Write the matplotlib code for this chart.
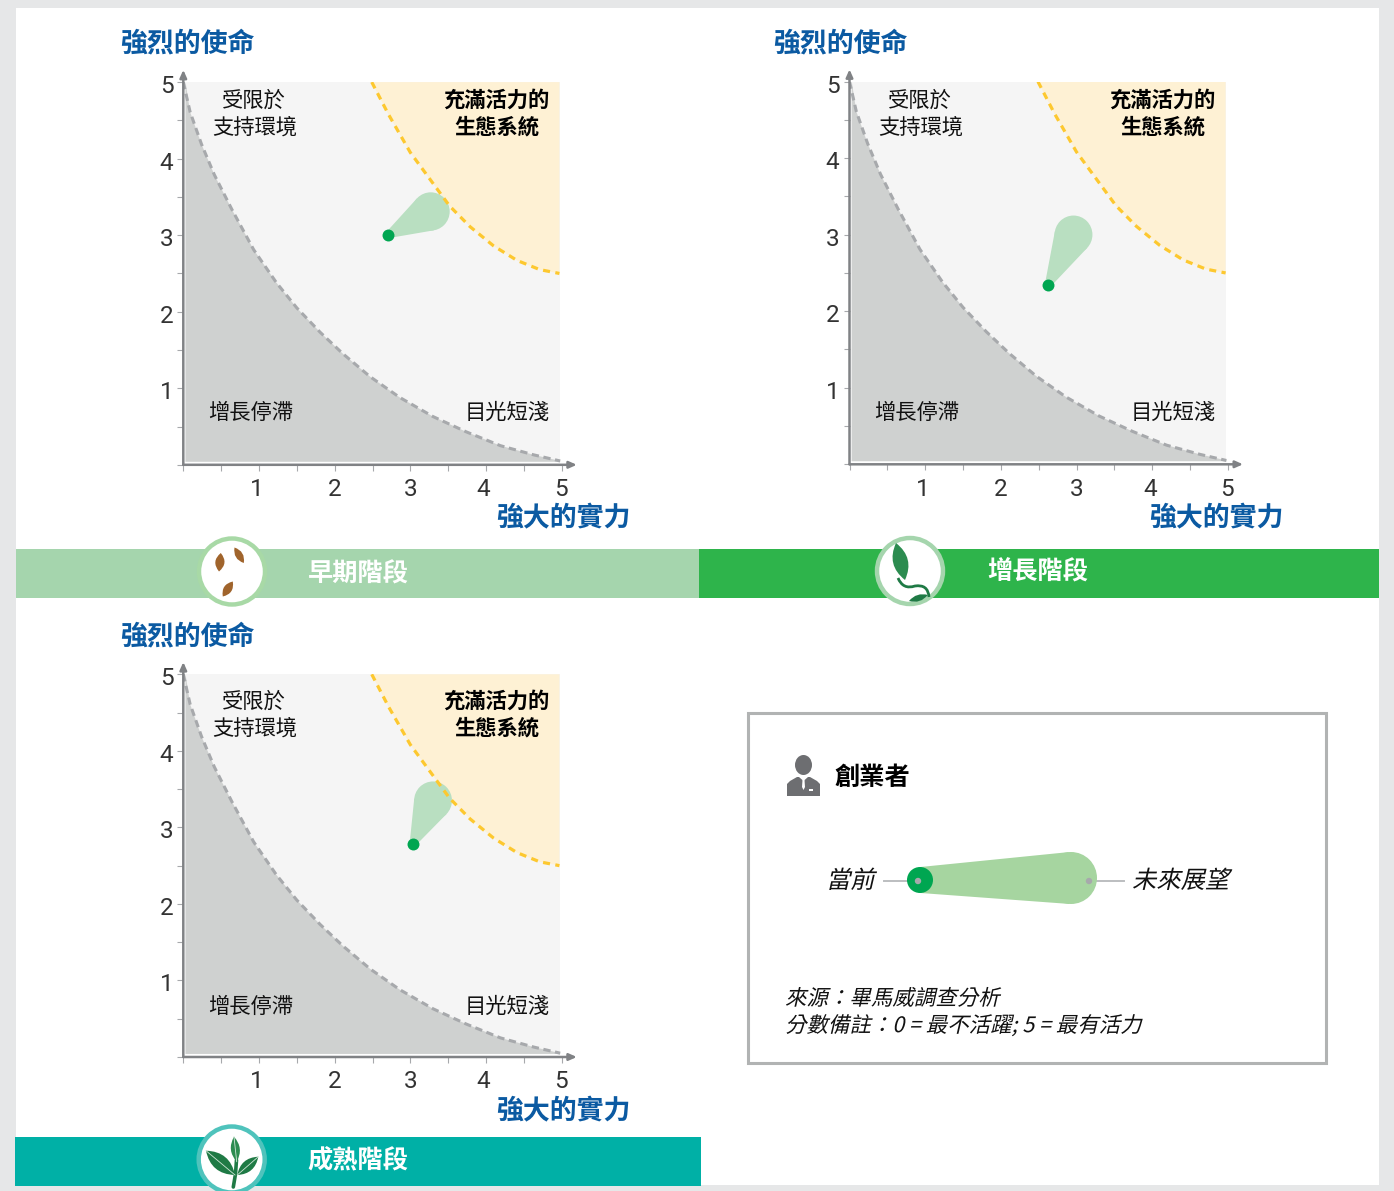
import numpy as np
import matplotlib
matplotlib.use("Agg")
import matplotlib.pyplot as plt
from matplotlib.patches import Rectangle, Circle, Ellipse, Polygon, PathPatch
from matplotlib.path import Path
from matplotlib.patheffects import AbstractPathEffect
from matplotlib.transforms import Affine2D, ScaledTranslation

plt.rcParams['font.family'] = ['Noto Sans CJK TC', 'DejaVu Sans']

W, H = 1394, 1191

# ---- data ----
low_x = [0, .09, .24, .41, .64, .93, 1.23, 1.50, 1.81, 2.11, 2.47, 2.86, 3.30, 3.74, 4.19, 4.63, 4.98]
low_y = [5.0, 4.61, 4.19, 3.79, 3.34, 2.81, 2.38, 2.05, 1.73, 1.45, 1.15, .88, .63, .43, .25, .13, .05]
high_x = [2.49, 2.71, 3.0, 3.26, 3.52, 3.79, 4.10, 4.41, 4.71, 4.97]
high_y = [5.0, 4.58, 4.08, 3.73, 3.38, 3.11, 2.86, 2.67, 2.55, 2.5]
now_x = [2.70, 2.62, 3.03]
now_y = [3.00, 2.34, 2.78]
future_x = [3.27, 2.96, 3.30]
future_y = [3.31, 3.00, 3.35]
tick_values = [1, 2, 3, 4, 5]
minor_values = [0, .5, 1.5, 2.5, 3.5, 4.5]
stages = ['早期階段', '增長階段', '成熟階段']
mission = '強烈的使命'
ability = '強大的實力'
zone_low = '增長停滯'
zone_mission = ['受限於', '支持環境']
zone_ability = '目光短淺'
zone_high = ['充滿活力的', '生態系統']

BLUE = '#0b5aa2'
AX_GRAY = '#808285'


class Skew(AbstractPathEffect):
    def draw_path(self, renderer, gc, tpath, affine, rgbFace=None):
        renderer.draw_path(gc, tpath, Affine2D().skew_deg(13, 0) + affine, rgbFace)


fig = plt.figure(figsize=(W / 100, H / 100), dpi=100, facecolor='#e6e7e8')

# pixel-space layer for page furniture, labels and icons
pg = fig.add_axes([0, 0, 1, 1], zorder=5, facecolor='none')
pg.set_xlim(0, W)
pg.set_ylim(H, 0)
pg.axis('off')
bg = fig.add_axes([0, 0, 1, 1], zorder=0)
bg.set_xlim(0, W)
bg.set_ylim(H, 0)
bg.axis('off')
bg.add_patch(Rectangle((16, 8), 1363, 1177, fc='white', ec='none'))


def T(x, y, s, size, color='#111111', weight='normal', ha='center', italic=False):
    t = pg.text(x, y + 2.5, s, fontsize=size * 1.01, color=color, fontweight=weight, ha=ha, va='center')
    if italic:
        t.set_path_effects([Skew()])
    return t


def teardrop(ax, x0, y0, x1, y1, r0, r1, color, z=3):
    c0, c1 = np.array([x0, y0]), np.array([x1, y1])
    d = c1 - c0
    L = np.hypot(*d)
    a = np.arctan2(d[1], d[0])
    b = np.arccos((r0 - r1) / L)
    n1 = np.array([np.cos(a + b), np.sin(a + b)])
    n2 = np.array([np.cos(a - b), np.sin(a - b)])
    ax.add_patch(Polygon([c0 + r0 * n1, c1 + r1 * n1, c1 + r1 * n2, c0 + r0 * n2],
                         fc=color, ec='none', zorder=z))
    ax.add_patch(Ellipse(c1, 2 * r1, 2 * r1, fc=color, ec='none', zorder=z))


def panel(x0, y0, dx, idx, ty):
    ax = fig.add_axes([x0 / W, 1 - y0 / H, 378.4 / W, 382.7 / H], zorder=2, facecolor='none')
    ax.set_xlim(0, 5)
    ax.set_ylim(0, 5)
    for s in ax.spines.values():
        s.set_visible(False)
    ax.add_patch(Rectangle((.02, .04), 4.96, 4.96, fc='#f5f5f5', ec='none', zorder=1))
    ax.fill_between(high_x + [4.97], high_y + [5], 5, fc='#fef1d4', ec='none', zorder=1.2)
    ax.fill_between([.03] + low_x[1:], [5] + low_y[1:], .04, fc='#cfd1d0', ec='none', zorder=1.4)
    ax.plot(low_x, low_y, color='#a7a9ac', lw=2.2, ls=(0, (2.4, 1.5)), zorder=2)
    teardrop(ax, now_x[idx], now_y[idx], future_x[idx], future_y[idx], .04, .25, '#b9dfc1')
    ax.plot(high_x, high_y, color='#fdc82f', lw=2.3, ls=(0, (2.2, 1.7)), zorder=4)
    ax.scatter(now_x[idx], now_y[idx], s=74, color='#00a651', zorder=5, linewidths=0)
    ax.set_xticks(tick_values)
    ax.set_yticks(tick_values)
    ax.set_xticks(minor_values, minor=True)
    ax.set_yticks(minor_values, minor=True)
    ax.tick_params(which='both', length=4.2, width=.8, color='#a7a9ac', labelcolor='#333333')
    ax.tick_params(axis='x', which='major', pad=5.5, labelsize=17.5, labelfontfamily='Roboto')
    ax.tick_params(axis='y', which='major', pad=3, labelsize=17.5, labelfontfamily='Roboto')
    shift_y = ScaledTranslation(0, -2 / 100, fig.dpi_scale_trans)
    for lab in ax.get_yticklabels():
        lab.set_transform(lab.get_transform() + shift_y)
    for lab, sx in zip(ax.get_xticklabels(), [-2.5, 0, 0, -2.5, -1]):
        lab.set_transform(lab.get_transform() + ScaledTranslation(sx / 100, 0, fig.dpi_scale_trans))
    for p in [(5.2, 0), (0, 5.16)]:
        ax.annotate('', xy=p, xytext=(0, 0), annotation_clip=False,
                    arrowprops=dict(arrowstyle='-|>,head_length=.45,head_width=.2', color=AX_GRAY,
                                    lw=1.8, shrinkA=0, shrinkB=0), zorder=6)
    # page labels
    T(120 + dx, ty, mission, 19.2, BLUE, 'bold', ha='left')
    T(496.5 + dx, ty + 475, ability, 19.2, BLUE, 'bold', ha='left')
    return ax


panel(183.3, 464.8, 0, 0, 41)
panel(849.5, 464.3, 653, 1, 41)
panel(183.3, 1057, 0, 2, 634)

# zone labels
for dx, dy_top, dy_bot in [(0, 0, 0), (666, 0, 0), (0, 601, 594)]:
    T(254 + dx, 98 + dy_top, zone_mission[0], 15.2)
    T(255 + dx, 125 + dy_top, zone_mission[1], 15.2)
    T(496.5 + dx, 98 + dy_top, zone_high[0], 15.2, '#000000', 'bold')
    T(496.5 + dx, 125 + dy_top, zone_high[1], 15.2, '#000000', 'bold')
    T(251 + dx, 410 + dy_bot, zone_low, 15.2)
    T(507 + dx, 410 + dy_bot, zone_ability, 15.2)

# stage bands
bg.add_patch(Rectangle((16, 549), 683, 49, fc='#a5d5ad', ec='none'))
bg.add_patch(Rectangle((699, 549), 680, 49, fc='#2eb44b', ec='none'))
bg.add_patch(Rectangle((15, 1137), 686, 49, fc='#00b0a6', ec='none'))
T(358, 572, stages[0], 18, 'white', 'bold')
T(1038, 569.5, stages[1], 18, 'white', 'bold')
T(358, 1158, stages[2], 18, 'white', 'bold')


def lens(p0, p1, w, color, z=7, vein=None):
    p0, p1 = np.array(p0, float), np.array(p1, float)
    d = p1 - p0
    n = np.array([-d[1], d[0]]) / np.hypot(*d)
    m = (p0 + p1) / 2
    verts = [p0, m + n * w * 2, p1, m - n * w * 2, p0]
    codes = [Path.MOVETO, Path.CURVE3, Path.CURVE3, Path.CURVE3, Path.CURVE3]
    pg.add_patch(PathPatch(Path(verts, codes), fc=color, ec='none', zorder=z))
    if vein:
        pg.plot([p0[0], p1[0]], [p0[1], p1[1]], color=vein, lw=.6, zorder=z + .1)


for c, ring in [((232, 571.5), '#a8d9a6'), ((910, 571), '#a5d5ad'), ((231.7, 1159.5), '#4fc3bc')]:
    pg.add_patch(Circle(c, 33, fc='white', ec=ring, lw=3.2, zorder=6))

BROWN = '#a0642c'
lens((220.8, 553), (219, 571.5), 4.6, BROWN)
lens((234.5, 547.5), (243.8, 563), 3.8, BROWN)
lens((232.8, 581.5), (222.8, 596.5), 4.2, BROWN)

lens((896, 543), (905, 580), 7.5, '#2c8c50')
pg.add_patch(PathPatch(Path([(898, 578), (903, 590), (915, 586), (928, 584), (929, 597)],
                            [Path.MOVETO, Path.CURVE3, Path.CURVE3, Path.CURVE3, Path.CURVE3]),
                       fc='none', ec='#1f7a45', lw=2, zorder=7))
lens((909, 601), (928, 595), 3.2, '#1f7a45')

DG = '#1f7a45'
pg.plot([236.5, 235.5, 233.3], [1160, 1174, 1187], color=DG, lw=2.6, zorder=7, solid_capstyle='round')
lens((234, 1136.7), (236.7, 1161.7), 4.5, '#2c8c50', vein='#cfe6d6')
lens((206, 1150.7), (235, 1175), 7.5, DG, vein='#cfe6d6')
lens((258.3, 1156.7), (237.3, 1175), 5.5, DG, vein='#cfe6d6')

# legend box
bg.add_patch(Rectangle((748, 713), 578.3, 349.5, fc='white', ec='#b1b3b3', lw=2.2))
# person icon
ICON = '#6d6e71'
pg.add_patch(Ellipse((803.5, 765), 17, 20, fc=ICON, ec='none', zorder=6))
pg.add_patch(Polygon([(787, 796), (787, 784), (790, 781), (797, 777), (810, 777), (817, 781), (820, 784), (820, 796)],
                     fc=ICON, ec='none', zorder=6))
pg.add_patch(Polygon([(799, 777), (803.5, 781), (808, 777)], fc='white', ec='none', zorder=6.1))
pg.add_patch(Polygon([(802.5, 780), (804.5, 780), (805, 787), (803.5, 790), (802, 787)], fc='white', ec='none', zorder=6.1))
pg.add_patch(Rectangle((809, 789), 4, 1.5, fc='white', ec='none', zorder=6.1))
T(834, 775, '創業者', 18, '#000000', 'bold', ha='left')

pg.plot([884, 916], [881, 881], color='#bcbec0', lw=1.4, zorder=6)
pg.plot([1090, 1124], [881, 881], color='#bcbec0', lw=1.4, zorder=6)
teardrop(pg, 921, 880, 1071, 878, 13, 26, '#a6d5a0', z=6.2)
pg.add_patch(Circle((920, 880), 13, fc='#00a651', ec='none', zorder=6.3))
pg.add_patch(Circle((918, 881), 3.2, fc='#a7a9ac', ec='none', zorder=6.5))
pg.add_patch(Circle((1089, 881), 3.2, fc='#a7a9ac', ec='none', zorder=6.5))
T(826, 878.5, '當前', 17.3, ha='left', italic=True)
T(1132, 878.5, '未來展望', 17.3, ha='left', italic=True)
T(785, 996.5, '來源：畢馬威調查分析', 15.3, ha='left', italic=True)
T(785, 1023.5, '分數備註：0 = 最不活躍; 5 = 最有活力', 15.3, ha='left', italic=True)

fig.savefig('out.png', dpi=100, facecolor=fig.get_facecolor())
